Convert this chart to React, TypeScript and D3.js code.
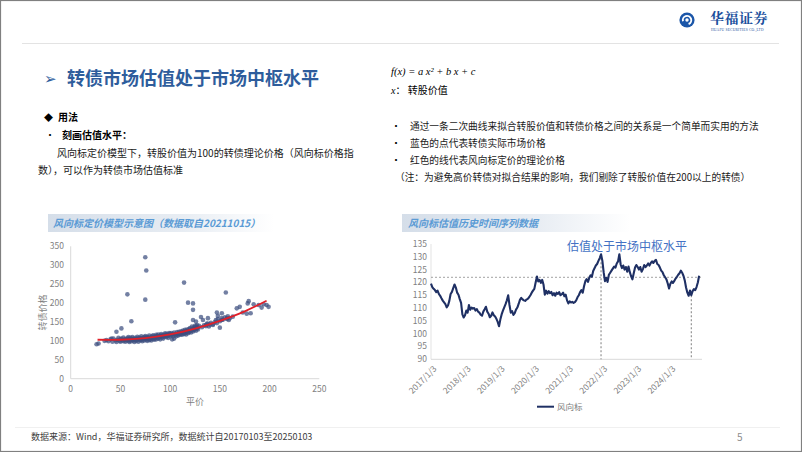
import React from "react";
import * as d3 from "d3";

// ---------- data ----------
const scatterTicksX = [0, 50, 100, 150, 200, 250];
const scatterTicksY = [0, 50, 100, 150, 200, 250, 300, 350];

// [平价, 转债价格]
const scatterPoints: [number, number][] = [
  [26, 91], [28, 93], [34, 100], [36, 102], [38, 99], [40, 104], [41, 106], [42, 98], [43, 106], [45, 101], [46, 97], [46, 124],
  [47, 103], [48, 108], [49, 100], [50, 104], [50, 98], [51, 133], [51, 106], [52, 101], [53, 99], [53, 109], [54, 103],
  [55, 105], [55, 98], [56, 101], [57, 107], [57, 103], [58, 100], [58, 110], [59, 104], [59, 97], [60, 102], [60, 108],
  [61, 105], [61, 99], [61, 152], [62, 103], [62, 110], [63, 101], [63, 106], [64, 104], [64, 97], [65, 108], [65, 102],
  [66, 100], [66, 105], [67, 111], [67, 103], [68, 98], [68, 106], [69, 104], [69, 109], [70, 101], [70, 107],
  [71, 103], [71, 112], [72, 106], [72, 99], [73, 108], [73, 104], [74, 110], [74, 101], [75, 106], [75, 113],
  [76, 103], [76, 108], [77, 100], [77, 111], [78, 105], [78, 109], [79, 102], [79, 114], [80, 107], [80, 104],
  [81, 110], [81, 101], [82, 108], [82, 113], [83, 105], [83, 115], [84, 109], [84, 103], [85, 112], [85, 107],
  [86, 116], [86, 104], [87, 110], [87, 113], [88, 106], [88, 117], [89, 111], [89, 108], [90, 114], [90, 104],
  [91, 112], [91, 118], [92, 109], [92, 115], [93, 113], [93, 106], [94, 117], [94, 111], [95, 114], [95, 120],
  [96, 110], [96, 116], [97, 113], [97, 119], [98, 108], [98, 115], [99, 117], [99, 121], [100, 112], [100, 118],
  [101, 115], [101, 121], [102, 117], [102, 104], [103, 119], [103, 113], [104, 106], [104, 122], [105, 116], [105, 149],
  [106, 118], [106, 112], [107, 123], [107, 117], [108, 120], [108, 114], [109, 124], [109, 118], [110, 116], [110, 121],
  [111, 125], [111, 119], [112, 122], [112, 116], [113, 127], [113, 120], [114, 118], [114, 124], [115, 129], [115, 121],
  [116, 123], [116, 117], [117, 126], [117, 130], [118, 120], [118, 125], [119, 131], [119, 123], [120, 127], [120, 134],
  [121, 122], [122, 128], [122, 138], [123, 125], [123, 132], [123, 155], [124, 135], [124, 129], [125, 140], [125, 131],
  [126, 137], [126, 127], [126, 151], [127, 133], [127, 142], [128, 136], [128, 130], [129, 140], [131, 163],
  [132, 136], [133, 155], [134, 141], [136, 139], [136, 142], [137, 146], [138, 145], [138, 160], [139, 138], [140, 143],
  [141, 148], [143, 144], [143, 142], [145, 150], [146, 155], [147, 175], [147, 147], [148, 158], [148, 166], [150, 152],
  [150, 135], [152, 160], [152, 173], [153, 156], [152, 155], [155, 162], [157, 158], [157, 160], [158, 165], [159, 155],
  [160, 160], [163, 164], [167, 186], [170, 190], [173, 175], [177, 172], [178, 199], [179, 205], [181, 173], [184, 197],
  [189, 195], [192, 188], [194, 197], [197, 195], [199, 190],
  [75, 321], [76, 286], [57, 223], [75, 209], [114, 254], [118, 201], [123, 199], [123, 182], [156, 228],
];

// red fitted curve
const fitCurve: [number, number][] = [
  [27, 103], [50, 103], [75, 107.5], [100, 117], [125, 132.5], [150, 153], [175, 178], [197, 206],
];

const seriesStart = new Date(2017, 0, 3);
const stepDays = 14;
const seriesName = "风向标";
const seriesValues = [
  119.5, 118.2, 117.5, 117.0, 116.2, 116.8, 115.5, 114.8, 113.8, 112.9,
  112.2, 111.5, 110.3, 111.0, 112.8, 115.5, 116.3, 117.8, 119.2, 118.0,
  116.0, 115.2, 113.5, 112.0, 107.5, 106.3, 107.2, 109.0, 108.2, 111.2,
  109.3, 110.2, 109.8, 110.0, 109.0, 109.6, 108.6, 108.2, 107.4, 107.0,
  108.6, 109.5, 110.5, 108.6, 107.8, 106.4, 107.0, 108.3, 107.2, 106.7,
  105.8, 104.6, 102.9, 105.5, 107.5, 109.0, 110.3, 111.5, 113.0, 115.0,
  111.2, 108.2, 108.8, 107.3, 108.0, 109.4, 110.2, 111.6, 113.2, 114.0,
  113.4, 113.0, 112.8, 113.3, 113.6, 114.2, 115.0, 116.0, 116.8, 117.5,
  120.0, 122.3, 120.4, 121.0, 119.8, 121.0, 119.2, 115.2, 116.8, 115.6,
  116.6, 115.8, 116.3, 115.0, 115.8, 114.8, 116.0, 115.5, 116.2, 115.0,
  115.4, 116.0, 114.6, 115.2, 113.0, 111.8, 112.6, 112.2, 112.4, 112.0,
  112.3, 113.0, 114.2, 115.0, 116.2, 117.0, 116.0, 118.5, 120.5, 121.3,
  120.2, 121.8, 122.8, 122.2, 124.5, 125.5, 126.6, 127.2, 128.4, 129.5,
  131.0, 128.5, 124.0, 120.5, 121.8, 120.2, 123.0, 123.8, 124.6, 125.4,
  126.2, 125.8, 127.4, 128.2, 131.0, 127.0, 125.6, 126.6, 125.0, 126.0,
  124.2, 126.2, 124.0, 122.4, 121.2, 123.6, 125.8, 126.8, 126.0, 125.0,
  126.0, 124.2, 125.2, 126.8, 126.0, 126.6, 127.4, 126.6, 127.6, 128.2,
  127.6, 128.4, 128.8, 127.2, 126.8, 125.8, 124.6, 124.0, 122.8, 122.0,
  121.2, 119.6, 117.6, 119.5, 120.4, 119.8, 120.6, 121.5, 122.2, 123.0,
  123.6, 124.6, 123.8, 122.6, 120.8, 118.0, 116.0, 114.8, 116.8, 115.0,
  116.6, 117.4, 117.0, 118.2, 120.0, 122.6,
];
const centerLevel = 122;
const markerIndices = [130, 199];
const tsTicksY = [90, 95, 100, 105, 110, 115, 120, 125, 130, 135];
const tsTickYears = [2017, 2018, 2019, 2020, 2021, 2022, 2023, 2024];

// ---------- layout ----------
const W = 802;
const H = 452;
const CJK = "'Noto Sans CJK SC', 'Noto Sans', sans-serif";

export default function App() {
  // scatter scales
  const sx = d3.scaleLinear().domain([0, 250]).range([70.7, 319.3]);
  const sy = d3.scaleLinear().domain([0, 350]).range([378.7, 246.3]);
  const fitLine = d3
    .line<[number, number]>()
    .x((d) => sx(d[0]))
    .y((d) => sy(d[1]))
    .curve(d3.curveNatural);

  // time series scales
  const tsData = seriesValues.map((v, i) => ({
    date: d3.timeDay.offset(seriesStart, i * stepDays),
    value: v,
  }));
  const tx = d3
    .scaleTime()
    .domain([new Date(2017, 0, 3), new Date(2025, 0, 3)])
    .range([431, 704]);
  const ty = d3.scaleLinear().domain([90, 135]).range([359.3, 244]);
  const tsLine = d3
    .line<{ date: Date; value: number }>()
    .x((d) => tx(d.date))
    .y((d) => ty(d.value));

  const gray = "#7f7f7f";

  return (
    <div style={{ position: "fixed", left: 0, top: 0, width: W, height: H }}>
      <svg width={W} height={H} style={{ display: "block", fontFamily: CJK }}>
        <defs>
          <linearGradient id="titleBg" x1="0" x2="1" y1="0" y2="0">
            <stop offset="0" stopColor="#d5dee9" />
            <stop offset="0.6" stopColor="#e8edf3" />
            <stop offset="1" stopColor="#ffffff" />
          </linearGradient>
        </defs>
        <rect x={0} y={0} width={W} height={H} fill="#ffffff" />
        <rect x={0.5} y={0.5} width={W - 1} height={H - 1} fill="none" stroke="#808080" strokeWidth={1.2} />

        {/* header */}
        <line x1={22} x2={779} y1={43.5} y2={43.5} stroke="#e3e3e3" strokeWidth={1} />
        <g transform="translate(687,20)">
          <circle r={7.6} fill="#1b56a8" />
          <path d="M -4 1.3 A 4.2 4.2 0 1 1 1.6 4" fill="none" stroke="#ffffff" strokeWidth={1.9} />
          <circle cx={0} cy={0} r={1.7} fill="#ffffff" />
        </g>
        <text x={710} y={23} fontFamily="'Noto Serif CJK SC', 'Noto Sans CJK SC', serif" fontWeight={700} fontSize={14} fill="#1b4f9c" letterSpacing={0.5}>
          华福证券
        </text>
        <text x={711} y={31} fontSize={3.6} fill="#1b4f9c" fontFamily="'Liberation Serif', serif" letterSpacing={0.2}>
          HUAFU SECURITIES CO.,LTD
        </text>

        {/* main title */}
        <text x={44} y={84} fontSize={15} fill="#2e5d9c" fontFamily="'DejaVu Sans', sans-serif">➢</text>
        <text x={67} y={85} fontSize={18} fontWeight={700} fill="#2e5d9c">转债市场估值处于市场中枢水平</text>

        {/* left text */}
        <text x={44} y={121} fontSize={9} fill="#000">◆</text>
        <text x={58} y={121} fontSize={10} fontWeight={700} fill="#000">用法</text>
        <text x={45} y={139} fontSize={10} fill="#000">•</text>
        <text x={62} y={139} fontSize={10} fontWeight={700} fill="#000">刻画估值水平：</text>
        <text x={57} y={157} fontSize={10} fill="#1a1a1a">风向标定价模型下，转股价值为100的转债理论价格（风向标价格指</text>
        <text x={38} y={174} fontSize={10} fill="#1a1a1a">数），可以作为转债市场估值标准</text>

        {/* right text */}
        <text x={391} y={75} fontSize={10.5} fill="#000" fontFamily="'Liberation Serif', serif" fontStyle="italic">
          f(x) = a x² + b x + c
        </text>
        <text x={391} y={94} fontSize={10} fill="#000">
          <tspan fontFamily="'Liberation Serif', serif" fontStyle="italic">x</tspan>
          <tspan>： 转股价值</tspan>
        </text>
        <text x={391} y={130} fontSize={10} fill="#000">•</text>
        <text x={410} y={130} fontSize={9.7} fill="#1a1a1a">通过一条二次曲线来拟合转股价值和转债价格之间的关系是一个简单而实用的方法</text>
        <text x={391} y={147} fontSize={10} fill="#000">•</text>
        <text x={410} y={147} fontSize={9.7} fill="#1a1a1a">蓝色的点代表转债实际市场价格</text>
        <text x={391} y={164} fontSize={10} fill="#000">•</text>
        <text x={410} y={164} fontSize={9.7} fill="#1a1a1a">红色的线代表风向标定价的理论价格</text>
        <text x={395} y={181} fontSize={9.7} fill="#1a1a1a">（注：为避免高价转债对拟合结果的影响，我们剔除了转股价值在200以上的转债）</text>

        {/* chart titles */}
        <rect x={48} y={214} width={226} height={18} fill="url(#titleBg)" />
        <text x={53} y={227} fontSize={10} fontWeight={700} fontStyle="italic" fill="#5b9bd5">
          风向标定价模型示意图（数据取自20211015）
        </text>
        <rect x={402} y={214} width={228} height={18} fill="url(#titleBg)" />
        <text x={408} y={227} fontSize={10} fontWeight={700} fontStyle="italic" fill="#5b9bd5">
          风向标估值历史时间序列数据
        </text>

        {/* scatter chart */}
        <g>
          <line x1={sx(0)} x2={sx(0)} y1={sy(350)} y2={sy(0)} stroke="#d9d9d9" strokeWidth={1} />
          <line x1={sx(0)} x2={sx(250)} y1={sy(0)} y2={sy(0)} stroke="#d9d9d9" strokeWidth={1} />
          {scatterTicksY.map((t) => (
            <text key={"sy" + t} x={64} y={sy(t)} dy="0.35em" textAnchor="end" fontSize={8.5} fill={gray}>
              {t}
            </text>
          ))}
          {scatterTicksX.map((t) => (
            <text key={"sx" + t} x={sx(t)} y={392} textAnchor="middle" fontSize={8.5} fill={gray}>
              {t}
            </text>
          ))}
          <text x={195} y={405} textAnchor="middle" fontSize={9} fill={gray}>平价</text>
          <text transform={`translate(46,${sy(175)}) rotate(-90)`} textAnchor="middle" fontSize={9} fill={gray}>
            转债价格
          </text>
          {scatterPoints.map((p, i) => (
            <circle key={i} cx={sx(p[0])} cy={sy(p[1])} r={2.3} fill="#3d4f7f" fillOpacity={0.72} />
          ))}
          <path d={fitLine(fitCurve) || ""} fill="none" stroke="#e0202a" strokeWidth={1.8} />
        </g>

        {/* time series chart */}
        <g>
          <line x1={431} x2={431} y1={ty(135)} y2={ty(90)} stroke="#e3e3e3" strokeWidth={1} />
          <line x1={431} x2={702} y1={ty(90)} y2={ty(90)} stroke="#d9d9d9" strokeWidth={1} />
          {tsTicksY.map((t) => (
            <text key={"ty" + t} x={427} y={ty(t)} dy="0.35em" textAnchor="end" fontSize={8.5} fill={gray}>
              {t}
            </text>
          ))}
          {tsTickYears.map((yr) => {
            const x = tx(new Date(yr, 0, 3));
            return (
              <text
                key={"tx" + yr}
                transform={`translate(${x + 2},${ty(90) + 6}) rotate(-45)`}
                textAnchor="end"
                dy="0.7em"
                fontSize={8.5}
                fill={gray}
              >
                {`${yr}/1/3`}
              </text>
            );
          })}
          <line x1={431} x2={702} y1={ty(centerLevel)} y2={ty(centerLevel)} stroke="#8c8c8c" strokeWidth={0.8} strokeDasharray="2,2" />
          {markerIndices.map((i) => (
            <line
              key={"m" + i}
              x1={tx(tsData[i].date)}
              x2={tx(tsData[i].date)}
              y1={ty(tsData[i].value)}
              y2={ty(90)}
              stroke="#6f6f6f"
              strokeWidth={0.9}
              strokeDasharray="2,2"
            />
          ))}
          <path d={tsLine(tsData) || ""} fill="none" stroke="#1f3064" strokeWidth={2.1} strokeLinejoin="round" />
          <text x={567} y={251} fontSize={12} fill="#4472c4">估值处于市场中枢水平</text>
          <line x1={537} x2={554} y1={406.7} y2={406.7} stroke="#1f3064" strokeWidth={2} />
          <text x={557} y={410} fontSize={8.5} fill={gray}>{seriesName}</text>
        </g>

        {/* footer */}
        <line x1={15} x2={780} y1={427.5} y2={427.5} stroke="#f0f0f0" strokeWidth={1} />
        <text x={31} y={440} fontSize={9} fill="#404040">数据来源：Wind，华福证券研究所，数据统计自20170103至20250103</text>
        <text x={737} y={441} fontSize={10} fill="#8c8c8c">5</text>
      </svg>
    </div>
  );
}
